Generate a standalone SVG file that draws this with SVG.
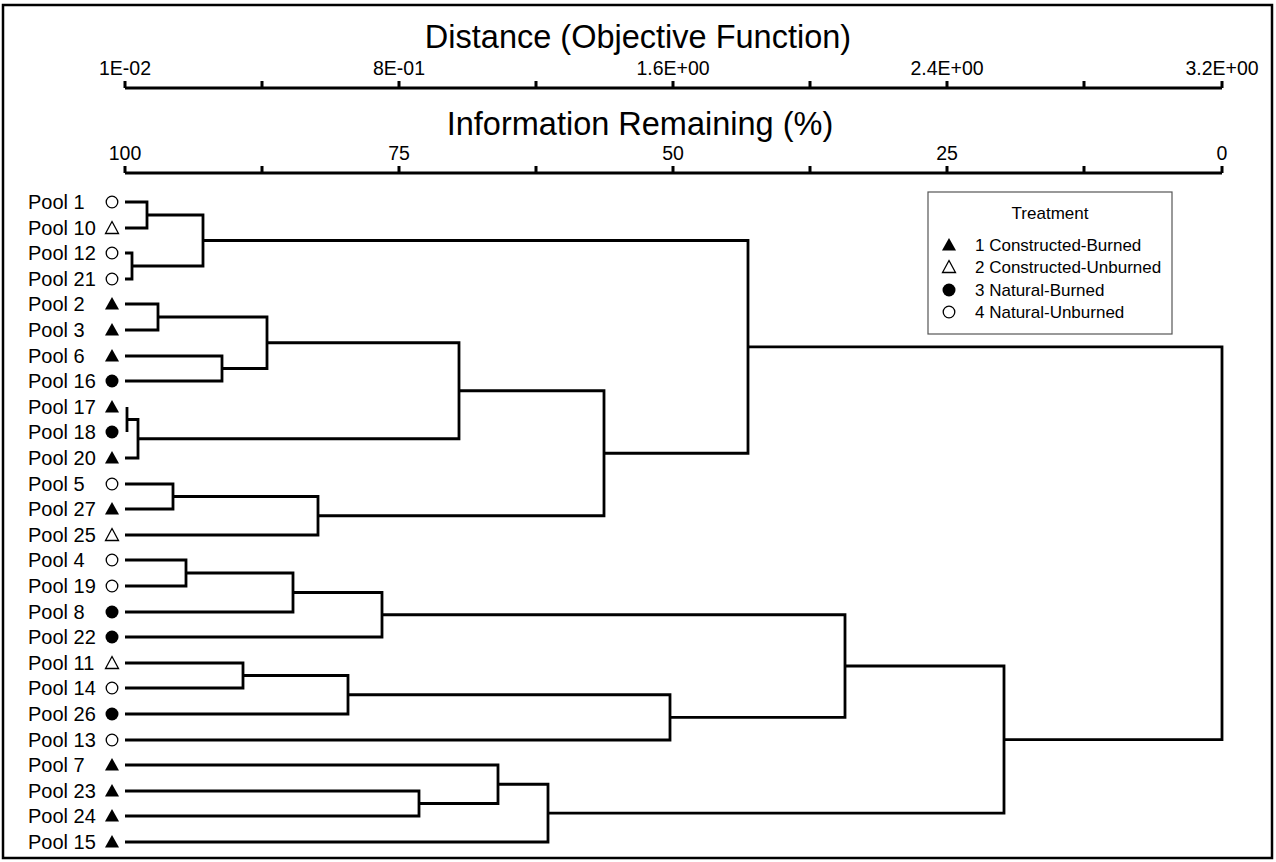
<svg xmlns="http://www.w3.org/2000/svg" xmlns:xlink="http://www.w3.org/1999/xlink" width="1276" height="862" viewBox="0 0 1276 862">
<style>
text{font-family:"Liberation Sans",Arial,sans-serif;fill:#000}
.title{font-size:32.5px}
.tick{font-size:19.5px}
.lbl{font-size:20px}
.leg{font-size:17px}
.ax{stroke:#000;stroke-width:3;fill:none}
.tr{stroke:#000;stroke-width:2.8;fill:none}
</style>
<defs>
<polygon id="tf" points="0,-7 7,5.5 -7,5.5" fill="#000"/>
<polygon id="to" points="0,-6.5 6.5,5.5 -6.5,5.5" fill="none" stroke="#000" stroke-width="1.3"/>
<circle id="cf" r="6.5" fill="#000"/>
<circle id="co" r="5.8" fill="none" stroke="#000" stroke-width="1.3"/>
</defs>
<rect x="0" y="0" width="1276" height="862" fill="#fff"/>
<rect x="3" y="5" width="1269" height="853" fill="none" stroke="#000" stroke-width="2.5"/>

<g id="axis-distance">
<text class="title" x="638" y="48" text-anchor="middle">Distance (Objective Function)</text>
<text class="tick" x="125" y="75" text-anchor="middle">1E-02</text>
<text class="tick" x="399" y="75" text-anchor="middle">8E-01</text>
<text class="tick" x="673" y="75" text-anchor="middle">1.6E+00</text>
<text class="tick" x="947" y="75" text-anchor="middle">2.4E+00</text>
<text class="tick" x="1222" y="75" text-anchor="middle">3.2E+00</text>
<path class="ax" d="M125,88 H1222 M125,81 V88 M262,81 V88 M399,81 V88 M536,81 V88 M673,81 V88 M810,81 V88 M947,81 V88 M1084,81 V88 M1222,81 V88"/>
</g>
<g id="axis-info">
<text class="title" x="640" y="135" text-anchor="middle">Information Remaining (%)</text>
<text class="tick" x="125" y="160" text-anchor="middle">100</text>
<text class="tick" x="399" y="160" text-anchor="middle">75</text>
<text class="tick" x="673" y="160" text-anchor="middle">50</text>
<text class="tick" x="947" y="160" text-anchor="middle">25</text>
<text class="tick" x="1222" y="160" text-anchor="middle">0</text>
<path class="ax" d="M125,173 H1222 M125,166 V173 M262,166 V173 M399,166 V173 M536,166 V173 M673,166 V173 M810,166 V173 M947,166 V173 M1084,166 V173 M1222,166 V173"/>
</g>

<g id="leaves">
<g id="pool1"><text class="lbl" x="28" y="209">Pool 1</text><use href="#co" x="112" y="202"/></g>
<g id="pool10"><text class="lbl" x="28" y="235">Pool 10</text><use href="#to" x="112" y="228"/></g>
<g id="pool12"><text class="lbl" x="28" y="260">Pool 12</text><use href="#co" x="112" y="253"/></g>
<g id="pool21"><text class="lbl" x="28" y="286">Pool 21</text><use href="#co" x="112" y="279"/></g>
<g id="pool2"><text class="lbl" x="28" y="311">Pool 2</text><use href="#tf" x="112" y="304"/></g>
<g id="pool3"><text class="lbl" x="28" y="337">Pool 3</text><use href="#tf" x="112" y="330"/></g>
<g id="pool6"><text class="lbl" x="28" y="363">Pool 6</text><use href="#tf" x="112" y="356"/></g>
<g id="pool16"><text class="lbl" x="28" y="388">Pool 16</text><use href="#cf" x="112" y="381"/></g>
<g id="pool17"><text class="lbl" x="28" y="414">Pool 17</text><use href="#tf" x="112" y="407"/></g>
<g id="pool18"><text class="lbl" x="28" y="439">Pool 18</text><use href="#cf" x="112" y="432"/></g>
<g id="pool20"><text class="lbl" x="28" y="465">Pool 20</text><use href="#tf" x="112" y="458"/></g>
<g id="pool5"><text class="lbl" x="28" y="491">Pool 5</text><use href="#co" x="112" y="484"/></g>
<g id="pool27"><text class="lbl" x="28" y="516">Pool 27</text><use href="#tf" x="112" y="509"/></g>
<g id="pool25"><text class="lbl" x="28" y="542">Pool 25</text><use href="#to" x="112" y="535"/></g>
<g id="pool4"><text class="lbl" x="28" y="567">Pool 4</text><use href="#co" x="112" y="560"/></g>
<g id="pool19"><text class="lbl" x="28" y="593">Pool 19</text><use href="#co" x="112" y="586"/></g>
<g id="pool8"><text class="lbl" x="28" y="619">Pool 8</text><use href="#cf" x="112" y="612"/></g>
<g id="pool22"><text class="lbl" x="28" y="644">Pool 22</text><use href="#cf" x="112" y="637"/></g>
<g id="pool11"><text class="lbl" x="28" y="670">Pool 11</text><use href="#to" x="112" y="663"/></g>
<g id="pool14"><text class="lbl" x="28" y="695">Pool 14</text><use href="#co" x="112" y="688"/></g>
<g id="pool26"><text class="lbl" x="28" y="721">Pool 26</text><use href="#cf" x="112" y="714"/></g>
<g id="pool13"><text class="lbl" x="28" y="747">Pool 13</text><use href="#co" x="112" y="740"/></g>
<g id="pool7"><text class="lbl" x="28" y="772">Pool 7</text><use href="#tf" x="112" y="765"/></g>
<g id="pool23"><text class="lbl" x="28" y="798">Pool 23</text><use href="#tf" x="112" y="791"/></g>
<g id="pool24"><text class="lbl" x="28" y="823">Pool 24</text><use href="#tf" x="112" y="816"/></g>
<g id="pool15"><text class="lbl" x="28" y="849">Pool 15</text><use href="#tf" x="112" y="842"/></g>
</g>

<g id="connectors" class="tr">
<path d="M125,202 H147 V228 H125"/>
<path d="M125,253 H132 V279 H125"/>
<path d="M147,215 H203 V266 H132"/>
<path d="M125,304 H158 V330 H125"/>
<path d="M125,356 H222 V381 H125"/>
<path d="M158,317 H267 V368.5 H222"/>
<path d="M127,407 V432"/>
<path d="M127,419.5 H138 V458 H125"/>
<path d="M267,342.75 H459 V438.75 H138"/>
<path d="M125,484 H173 V509 H125"/>
<path d="M173,496.5 H318 V535 H125"/>
<path d="M459,390.75 H604 V515.75 H318"/>
<path d="M203,240.5 H748 V453.25 H604"/>
<path d="M125,560 H186 V586 H125"/>
<path d="M186,573 H293 V612 H125"/>
<path d="M293,592.5 H382 V637 H125"/>
<path d="M125,663 H243 V688 H125"/>
<path d="M243,675.5 H348 V714 H125"/>
<path d="M348,694.75 H670 V740 H125"/>
<path d="M382,614.75 H845 V717.4 H670"/>
<path d="M125,791 H419 V816 H125"/>
<path d="M125,765 H498 V803.5 H419"/>
<path d="M498,784.25 H548 V842 H125"/>
<path d="M845,666 H1004 V813.1 H548"/>
<path d="M748,346.9 H1222 V739.6 H1004"/>
</g>

<g id="legend">
<rect x="928" y="192" width="244" height="142" fill="#fff" stroke="#555" stroke-width="1.2"/>
<text class="leg" x="1050" y="219" text-anchor="middle">Treatment</text>
<use href="#tf" x="949" y="245"/><text class="leg" x="975" y="251">1 Constructed-Burned</text>
<use href="#to" x="949" y="267"/><text class="leg" x="975" y="273">2 Constructed-Unburned</text>
<use href="#cf" x="949" y="290"/><text class="leg" x="975" y="296">3 Natural-Burned</text>
<use href="#co" x="949" y="312"/><text class="leg" x="975" y="318">4 Natural-Unburned</text>
</g>
</svg>
